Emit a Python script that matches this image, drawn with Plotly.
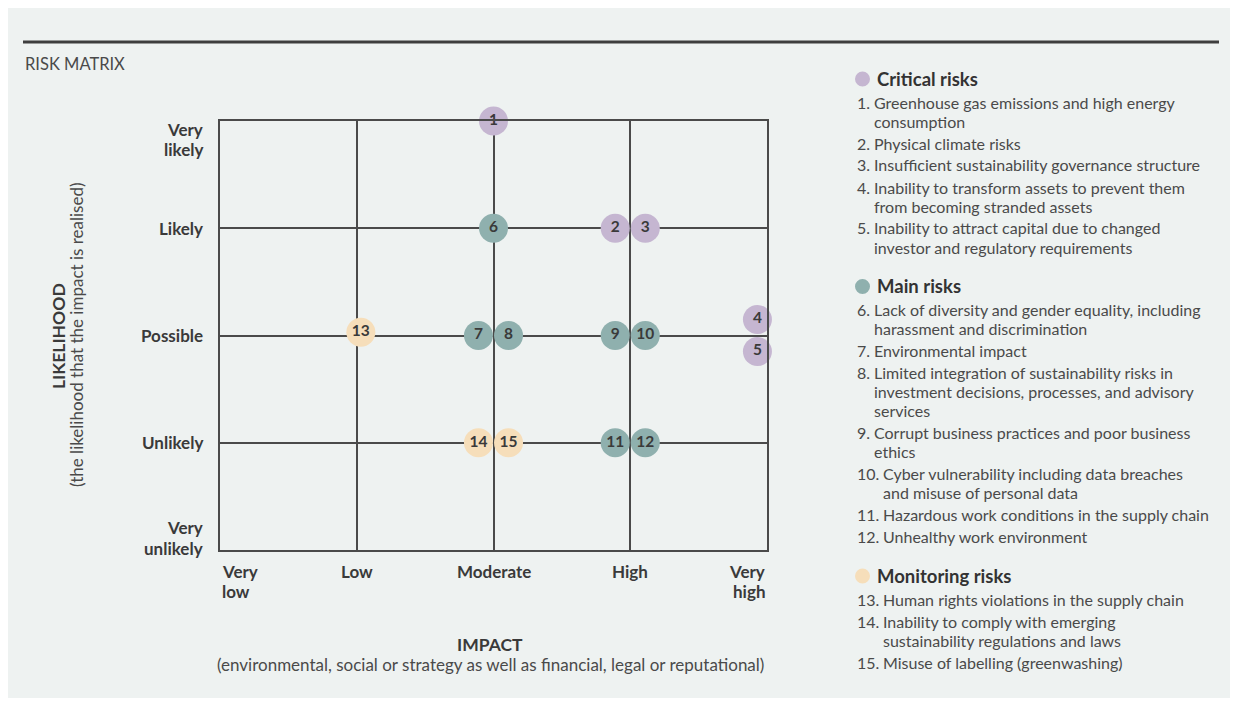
import plotly.graph_objects as go

# ---------------- data ----------------
risk_ids = [str(i) for i in range(1, 16)]
risk_group = (["Critical risks"] * 5 + ["Main risks"] * 7 + ["Monitoring risks"] * 3)
# impact: 0=Very low .. 4=Very high ; likelihood: 0=Very unlikely .. 4=Very likely
impact = [2.0, 2.89, 3.11, 3.93, 3.93, 2.0, 1.89, 2.11, 2.89, 3.11, 2.89, 3.11, 1.03, 1.89, 2.11]
likelihood = [4.0, 3.0, 3.0, 2.15, 1.85, 3.0, 2.0, 2.0, 2.0, 2.0, 1.0, 1.0, 2.03, 1.0, 1.0]

impact_labels = [["Very", "low"], ["Low"], ["Moderate"], ["High"], ["Very", "high"]]
likelihood_labels = [["Very", "unlikely"], ["Unlikely"], ["Possible"], ["Likely"], ["Very", "likely"]]

groups = ["Critical risks", "Main risks", "Monitoring risks"]
group_colors = {"Critical risks": "#C5B6D1", "Main risks": "#8FB0AE", "Monitoring risks": "#F6DEBA"}

legend_items = {
    "Critical risks": [
        ("1.", ["Greenhouse gas emissions and high energy", "consumption"]),
        ("2.", ["Physical climate risks"]),
        ("3.", ["Insufficient sustainability governance structure"]),
        ("4.", ["Inability to transform assets to prevent them", "from becoming stranded assets"]),
        ("5.", ["Inability to attract capital due to changed", "investor and regulatory requirements"]),
    ],
    "Main risks": [
        ("6.", ["Lack of diversity and gender equality, including", "harassment and discrimination"]),
        ("7.", ["Environmental impact"]),
        ("8.", ["Limited integration of sustainability risks in",
                "investment decisions, processes, and advisory", "services"]),
        ("9.", ["Corrupt business practices and poor business", "ethics"]),
        ("10.", ["Cyber vulnerability including data breaches", "and misuse of personal data"]),
        ("11.", ["Hazardous work conditions in the supply chain"]),
        ("12.", ["Unhealthy work environment"]),
    ],
    "Monitoring risks": [
        ("13.", ["Human rights violations in the supply chain"]),
        ("14.", ["Inability to comply with emerging", "sustainability regulations and laws"]),
        ("15.", ["Misuse of labelling (greenwashing)"]),
    ],
}

# ---------------- styling ----------------
BG = "#EEF2F1"
FONT = "Lato"
DARK = "#3A3A3A"
TXT = "#4A4A4A"
GRID = "#4A4A4A"

PAGE_OFF = 8            # browser body margin
W, H = 1238 - 2 * PAGE_OFF, 706 - 2 * PAGE_OFF


def px(x):
    return (x - PAGE_OFF) / W


def py(y):
    return 1 - (y - PAGE_OFF) / H


PLOT_L, PLOT_R, PLOT_T, PLOT_B = 220, 767, 121, 550

fig = go.Figure()
for g in groups:
    idx = [i for i, gg in enumerate(risk_group) if gg == g]
    fig.add_trace(go.Scatter(
        x=[impact[i] for i in idx],
        y=[likelihood[i] for i in idx],
        text=[risk_ids[i] for i in idx],
        mode="markers+text",
        textposition="middle center",
        textfont=dict(family=FONT, size=15.5, color=DARK, weight="bold"),
        marker=dict(size=29, color=group_colors[g], line=dict(width=0)),
        cliponaxis=False,
        hoverinfo="skip",
        showlegend=False,
    ))

axis_common = dict(
    range=[0, 4], tickvals=[0, 1, 2, 3, 4], showticklabels=False, ticks="",
    showgrid=True, gridcolor=GRID, gridwidth=1.8, zeroline=False,
    showline=True, linecolor=GRID, linewidth=1.8, mirror=True, fixedrange=True,
)

fig.update_layout(
    width=W, height=H,
    margin=dict(l=0, r=0, t=0, b=0),
    paper_bgcolor=BG, plot_bgcolor=BG,
    xaxis=dict(domain=[px(PLOT_L), px(PLOT_R)], **axis_common),
    yaxis=dict(domain=[py(PLOT_B), py(PLOT_T)], **axis_common),
    font=dict(family=FONT, color=DARK),
    showlegend=False,
)

ann = []
TICK_FONT = dict(family=FONT, size=17, color=DARK, weight="bold")
TICK_LH = 20.5
# x tick labels
for i, lines in enumerate(impact_labels):
    if i == 0:
        xa = "left"
    elif i == len(impact_labels) - 1:
        xa = "right"
    else:
        xa = "center"
    for k, line in enumerate(lines):
        ann.append(dict(x=i, y=py(PLOT_B + 21 + k * TICK_LH), xref="x", yref="paper", text=line,
                        xanchor=xa, yanchor="middle", showarrow=False, font=TICK_FONT))
# y tick labels
for i, lines in enumerate(likelihood_labels):
    n = len(lines)
    if i == 0:
        offs = [-(n - 1 - k) * TICK_LH - 2 for k in range(n)]
    elif i == len(likelihood_labels) - 1:
        offs = [8 + k * TICK_LH for k in range(n)]
    else:
        offs = [(k - (n - 1) / 2) * TICK_LH for k in range(n)]
    for k, line in enumerate(lines):
        ann.append(dict(x=px(PLOT_L - 15), y=i, xref="paper", yref="y", text=line,
                        yshift=-offs[k], xanchor="right", yanchor="middle",
                        showarrow=False, font=TICK_FONT))

# axis titles
ann.append(dict(x=px(490), y=py(644), xref="paper", yref="paper", text="IMPACT",
                xanchor="center", yanchor="middle", showarrow=False,
                font=dict(family=FONT, size=17.5, color=DARK, weight="bold")))
ann.append(dict(x=px(490), y=py(664), xref="paper", yref="paper",
                text="(environmental, social or strategy as well as financial, legal or reputational)",
                xanchor="center", yanchor="middle", showarrow=False,
                font=dict(family=FONT, size=17, color=TXT)))
ann.append(dict(x=px(58), y=py(336), xref="paper", yref="paper", text="LIKELIHOOD",
                xanchor="center", yanchor="middle", textangle=-90, showarrow=False,
                font=dict(family=FONT, size=17.5, color=DARK, weight="bold")))
ann.append(dict(x=px(77), y=py(335), xref="paper", yref="paper",
                text="(the likelihood that the impact is realised)",
                xanchor="center", yanchor="middle", textangle=-90, showarrow=False,
                font=dict(family=FONT, size=17, color=TXT)))

# chart title
ann.append(dict(x=px(23), y=py(64), xref="paper", yref="paper", text="RISK MATRIX",
                xanchor="left", yanchor="middle", showarrow=False,
                font=dict(family=FONT, size=16.5, color=TXT)))

shapes = [dict(type="line", xref="paper", yref="paper", x0=px(23), x1=px(1219),
               y0=py(42), y1=py(42), line=dict(color="#3E3E3E", width=3))]

# legend blocks
LINE = 19
ITEM_GAP = 3
HEAD_TO_ITEM = 23
ITEM_TO_HEAD = 39.5
ITEM_FONT = dict(family=FONT, size=16, color=TXT)
hy = 79
for g in groups:
    shapes.append(dict(type="circle", xref="paper", yref="paper",
                       x0=px(855), x1=px(870), y0=py(hy + 7.5), y1=py(hy - 7.5),
                       fillcolor=group_colors[g], line=dict(width=0)))
    ann.append(dict(x=px(875), y=py(hy), xref="paper", yref="paper", text=g,
                    xanchor="left", yanchor="middle", showarrow=False,
                    font=dict(family=FONT, size=18.5, color="#333333", weight="bold")))
    cy = hy + HEAD_TO_ITEM
    last = cy
    for num, lines in legend_items[g]:
        ann.append(dict(x=px(855), y=py(cy), xref="paper", yref="paper", text=num,
                        xanchor="left", yanchor="middle", showarrow=False, font=ITEM_FONT))
        tx = 872 if len(num) == 2 else 881
        for k, line in enumerate(lines):
            ly = cy + k * LINE
            ann.append(dict(x=px(tx), y=py(ly), xref="paper", yref="paper", text=line,
                            xanchor="left", yanchor="middle", showarrow=False, font=ITEM_FONT))
            last = ly
        cy += len(lines) * LINE + ITEM_GAP
    hy = last + ITEM_TO_HEAD

fig.update_layout(annotations=ann, shapes=shapes)
fig.write_html("out.html")
